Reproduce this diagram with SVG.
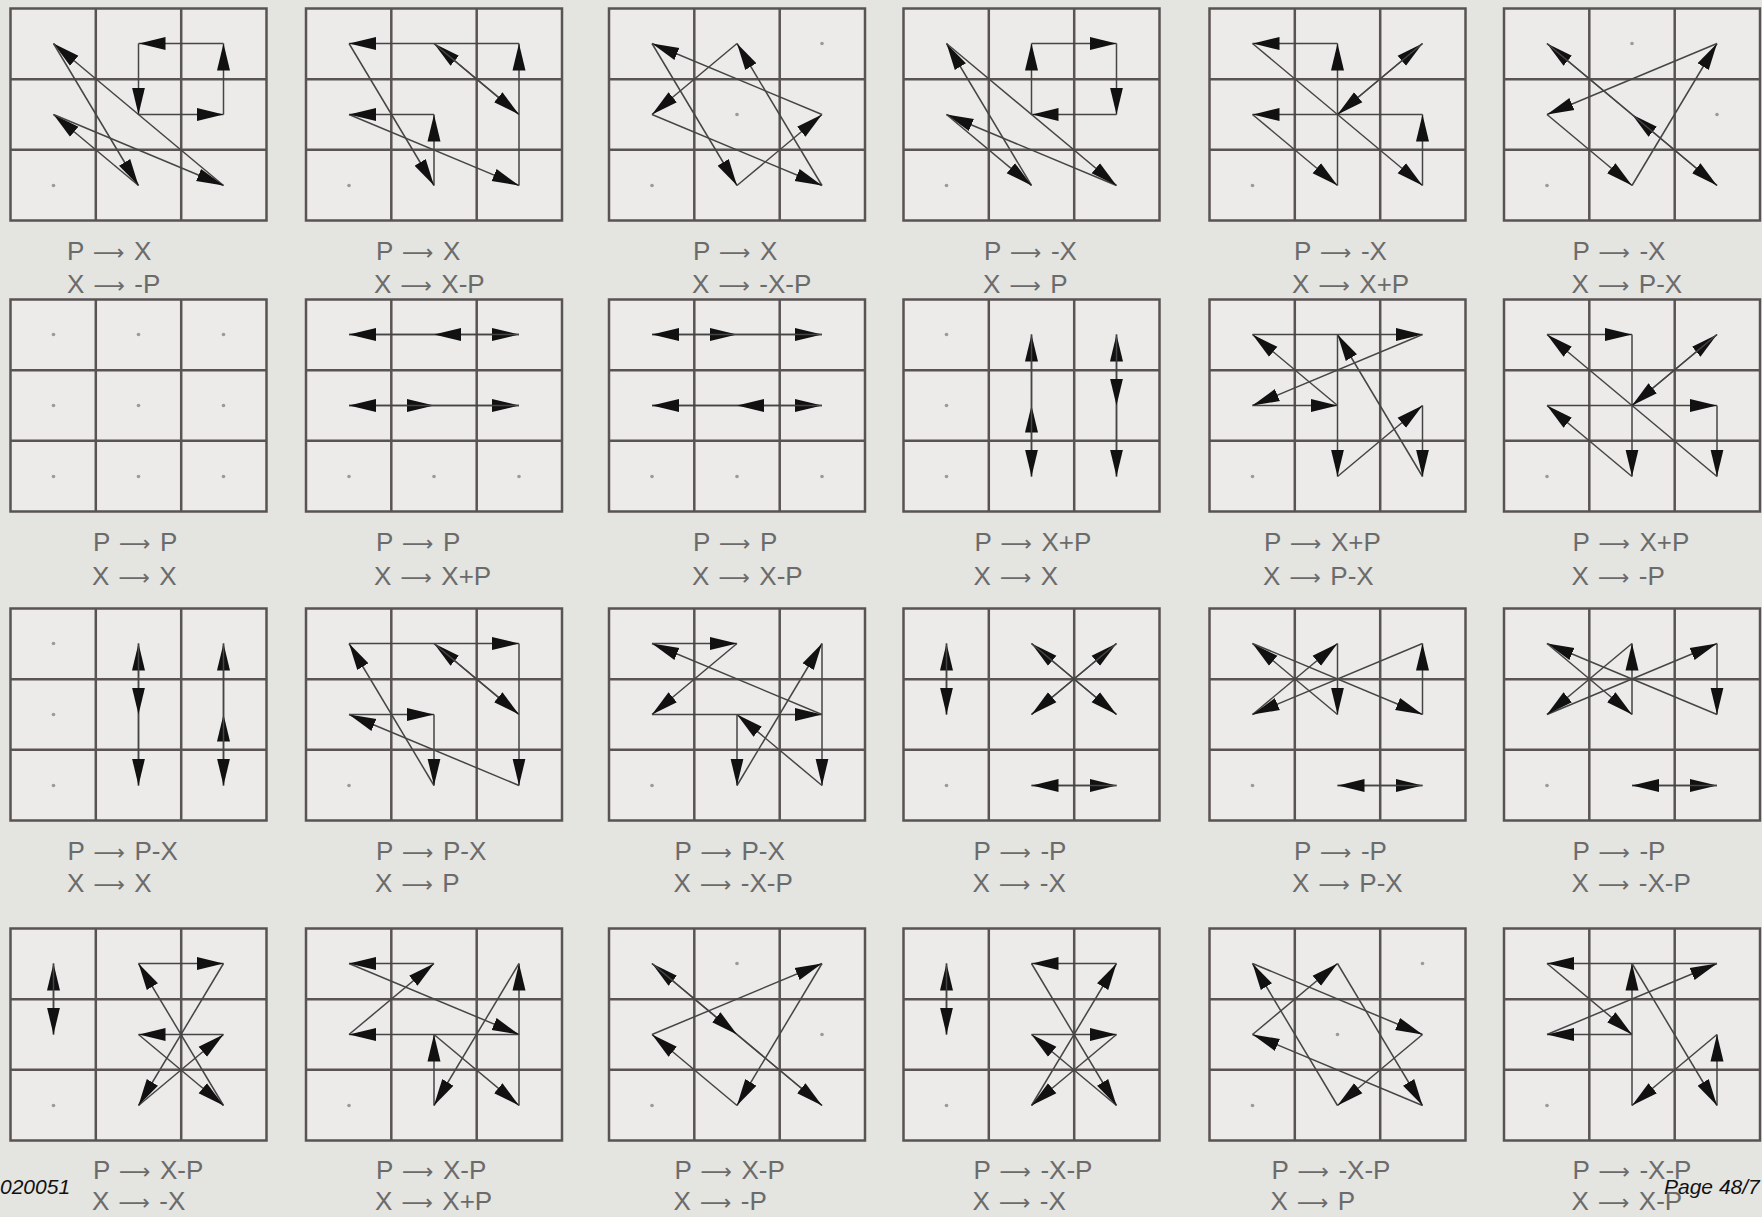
<svg xmlns="http://www.w3.org/2000/svg" xmlns:xlink="http://www.w3.org/1999/xlink" width="1762" height="1217" viewBox="0 0 1762 1217">
<style>
.lbl{font-family:"Liberation Sans",Arial,sans-serif;font-size:26px;fill:#6b6b6b;word-spacing:2px}
.ar{font-family:"DejaVu Sans",sans-serif;font-size:22px}
.ft{font-family:"Liberation Sans",Arial,sans-serif;font-size:21px;font-style:italic;fill:#111}
.d{fill:#9a9a9a}
.a path{fill:none;stroke:#454545;stroke-width:1.5;marker-end:url(#h)}
</style>
<defs>
<marker id="h" markerUnits="userSpaceOnUse" viewBox="0 0 27 14" refX="27" refY="7" markerWidth="27" markerHeight="14" orient="auto">
<path d="M0,0.5 L27,7 L0,13.5 Z" fill="#111"/>
</marker>
<g id="grid">
<rect x="0" y="0" width="256" height="212" fill="#ecebe9" stroke="#595353" stroke-width="2.5"/>
<path d="M85.3,0V212M170.7,0V212M0,70.7H256M0,141.3H256" stroke="#595353" stroke-width="2.5" fill="none"/>
</g>
</defs>
<rect width="1762" height="1217" fill="#e4e4e0"/>

<g id="panel1"><use xlink:href="#grid" x="10.5" y="8.5"/><circle class="d" cx="53.5" cy="185.5" r="1.8"/><text class="lbl" x="67" y="259.5">P <tspan class="ar">⟶</tspan> X</text><text class="lbl" x="67" y="292.5">X <tspan class="ar">⟶</tspan> -P</text></g>
<g id="panel2"><use xlink:href="#grid" x="306" y="8.5"/><circle class="d" cx="349" cy="185.5" r="1.8"/><text class="lbl" x="376" y="259.5">P <tspan class="ar">⟶</tspan> X</text><text class="lbl" x="374" y="292.5">X <tspan class="ar">⟶</tspan> X-P</text></g>
<g id="panel3"><use xlink:href="#grid" x="609" y="8.5"/><circle class="d" cx="652" cy="185.5" r="1.8"/><circle class="d" cx="737" cy="114.5" r="1.8"/><circle class="d" cx="822" cy="43.5" r="1.8"/><text class="lbl" x="693" y="259.5">P <tspan class="ar">⟶</tspan> X</text><text class="lbl" x="692" y="292.5">X <tspan class="ar">⟶</tspan> -X-P</text></g>
<g id="panel4"><use xlink:href="#grid" x="903.5" y="8.5"/><circle class="d" cx="946.5" cy="185.5" r="1.8"/><text class="lbl" x="984" y="259.5">P <tspan class="ar">⟶</tspan> -X</text><text class="lbl" x="983" y="292.5">X <tspan class="ar">⟶</tspan> P</text></g>
<g id="panel5"><use xlink:href="#grid" x="1209.5" y="8.5"/><circle class="d" cx="1252.5" cy="185.5" r="1.8"/><text class="lbl" x="1294" y="259.5">P <tspan class="ar">⟶</tspan> -X</text><text class="lbl" x="1292" y="292.5">X <tspan class="ar">⟶</tspan> X+P</text></g>
<g id="panel6"><use xlink:href="#grid" x="1504" y="8.5"/><circle class="d" cx="1547" cy="185.5" r="1.8"/><circle class="d" cx="1717" cy="114.5" r="1.8"/><circle class="d" cx="1632" cy="43.5" r="1.8"/><text class="lbl" x="1572.5" y="259.5">P <tspan class="ar">⟶</tspan> -X</text><text class="lbl" x="1571.5" y="292.5">X <tspan class="ar">⟶</tspan> P-X</text></g>

<g id="panel7"><use xlink:href="#grid" x="10.5" y="299.5"/><g class="d"><circle cx="53.5" cy="476.5" r="1.8"/><circle cx="138.5" cy="476.5" r="1.8"/><circle cx="223.5" cy="476.5" r="1.8"/><circle cx="53.5" cy="405.5" r="1.8"/><circle cx="138.5" cy="405.5" r="1.8"/><circle cx="223.5" cy="405.5" r="1.8"/><circle cx="53.5" cy="334.5" r="1.8"/><circle cx="138.5" cy="334.5" r="1.8"/><circle cx="223.5" cy="334.5" r="1.8"/></g><text class="lbl" x="93" y="550.5">P <tspan class="ar">⟶</tspan> P</text><text class="lbl" x="92" y="584.5">X <tspan class="ar">⟶</tspan> X</text></g>
<g id="panel8"><use xlink:href="#grid" x="306" y="299.5"/><g class="d"><circle cx="349" cy="476.5" r="1.8"/><circle cx="434" cy="476.5" r="1.8"/><circle cx="519" cy="476.5" r="1.8"/></g><text class="lbl" x="376" y="550.5">P <tspan class="ar">⟶</tspan> P</text><text class="lbl" x="374" y="584.5">X <tspan class="ar">⟶</tspan> X+P</text></g>
<g id="panel9"><use xlink:href="#grid" x="609" y="299.5"/><g class="d"><circle cx="652" cy="476.5" r="1.8"/><circle cx="737" cy="476.5" r="1.8"/><circle cx="822" cy="476.5" r="1.8"/></g><text class="lbl" x="693" y="550.5">P <tspan class="ar">⟶</tspan> P</text><text class="lbl" x="692" y="584.5">X <tspan class="ar">⟶</tspan> X-P</text></g>
<g id="panel10"><use xlink:href="#grid" x="903.5" y="299.5"/><g class="d"><circle cx="946.5" cy="476.5" r="1.8"/><circle cx="946.5" cy="405.5" r="1.8"/><circle cx="946.5" cy="334.5" r="1.8"/></g><text class="lbl" x="974.5" y="550.5">P <tspan class="ar">⟶</tspan> X+P</text><text class="lbl" x="973.5" y="584.5">X <tspan class="ar">⟶</tspan> X</text></g>
<g id="panel11"><use xlink:href="#grid" x="1209.5" y="299.5"/><circle class="d" cx="1252.5" cy="476.5" r="1.8"/><text class="lbl" x="1264" y="550.5">P <tspan class="ar">⟶</tspan> X+P</text><text class="lbl" x="1263" y="584.5">X <tspan class="ar">⟶</tspan> P-X</text></g>
<g id="panel12"><use xlink:href="#grid" x="1504" y="299.5"/><circle class="d" cx="1547" cy="476.5" r="1.8"/><text class="lbl" x="1572.5" y="550.5">P <tspan class="ar">⟶</tspan> X+P</text><text class="lbl" x="1571.5" y="584.5">X <tspan class="ar">⟶</tspan> -P</text></g>

<g id="panel13"><use xlink:href="#grid" x="10.5" y="608.5"/><g class="d"><circle cx="53.5" cy="785.5" r="1.8"/><circle cx="53.5" cy="714.5" r="1.8"/><circle cx="53.5" cy="643.5" r="1.8"/></g><text class="lbl" x="67.5" y="859.5">P <tspan class="ar">⟶</tspan> P-X</text><text class="lbl" x="67" y="891.5">X <tspan class="ar">⟶</tspan> X</text></g>
<g id="panel14"><use xlink:href="#grid" x="306" y="608.5"/><circle class="d" cx="349" cy="785.5" r="1.8"/><text class="lbl" x="376" y="859.5">P <tspan class="ar">⟶</tspan> P-X</text><text class="lbl" x="375" y="891.5">X <tspan class="ar">⟶</tspan> P</text></g>
<g id="panel15"><use xlink:href="#grid" x="609" y="608.5"/><circle class="d" cx="652" cy="785.5" r="1.8"/><text class="lbl" x="674.5" y="859.5">P <tspan class="ar">⟶</tspan> P-X</text><text class="lbl" x="673.5" y="891.5">X <tspan class="ar">⟶</tspan> -X-P</text></g>
<g id="panel16"><use xlink:href="#grid" x="903.5" y="608.5"/><circle class="d" cx="946.5" cy="785.5" r="1.8"/><text class="lbl" x="973.5" y="859.5">P <tspan class="ar">⟶</tspan> -P</text><text class="lbl" x="972.5" y="891.5">X <tspan class="ar">⟶</tspan> -X</text></g>
<g id="panel17"><use xlink:href="#grid" x="1209.5" y="608.5"/><circle class="d" cx="1252.5" cy="785.5" r="1.8"/><text class="lbl" x="1294" y="859.5">P <tspan class="ar">⟶</tspan> -P</text><text class="lbl" x="1292" y="891.5">X <tspan class="ar">⟶</tspan> P-X</text></g>
<g id="panel18"><use xlink:href="#grid" x="1504" y="608.5"/><circle class="d" cx="1547" cy="785.5" r="1.8"/><text class="lbl" x="1572.5" y="859.5">P <tspan class="ar">⟶</tspan> -P</text><text class="lbl" x="1571.5" y="891.5">X <tspan class="ar">⟶</tspan> -X-P</text></g>

<g id="panel19"><use xlink:href="#grid" x="10.5" y="928.5"/><circle class="d" cx="53.5" cy="1105.5" r="1.8"/><text class="lbl" x="93" y="1179">P <tspan class="ar">⟶</tspan> X-P</text><text class="lbl" x="92" y="1210">X <tspan class="ar">⟶</tspan> -X</text></g>
<g id="panel20"><use xlink:href="#grid" x="306" y="928.5"/><circle class="d" cx="349" cy="1105.5" r="1.8"/><text class="lbl" x="376" y="1179">P <tspan class="ar">⟶</tspan> X-P</text><text class="lbl" x="375" y="1210">X <tspan class="ar">⟶</tspan> X+P</text></g>
<g id="panel21"><use xlink:href="#grid" x="609" y="928.5"/><circle class="d" cx="652" cy="1105.5" r="1.8"/><circle class="d" cx="822" cy="1034.5" r="1.8"/><circle class="d" cx="737" cy="963.5" r="1.8"/><text class="lbl" x="674.5" y="1179">P <tspan class="ar">⟶</tspan> X-P</text><text class="lbl" x="673.5" y="1210">X <tspan class="ar">⟶</tspan> -P</text></g>
<g id="panel22"><use xlink:href="#grid" x="903.5" y="928.5"/><circle class="d" cx="946.5" cy="1105.5" r="1.8"/><text class="lbl" x="973.5" y="1179">P <tspan class="ar">⟶</tspan> -X-P</text><text class="lbl" x="972.5" y="1210">X <tspan class="ar">⟶</tspan> -X</text></g>
<g id="panel23"><use xlink:href="#grid" x="1209.5" y="928.5"/><circle class="d" cx="1252.5" cy="1105.5" r="1.8"/><circle class="d" cx="1337.5" cy="1034.5" r="1.8"/><circle class="d" cx="1422.5" cy="963.5" r="1.8"/><text class="lbl" x="1271.5" y="1179">P <tspan class="ar">⟶</tspan> -X-P</text><text class="lbl" x="1270.5" y="1210">X <tspan class="ar">⟶</tspan> P</text></g>
<g id="panel24"><use xlink:href="#grid" x="1504" y="928.5"/><circle class="d" cx="1547" cy="1105.5" r="1.8"/><text class="lbl" x="1572.5" y="1179">P <tspan class="ar">⟶</tspan> -X-P</text><text class="lbl" x="1571.5" y="1210">X <tspan class="ar">⟶</tspan> X-P</text></g>

<g id="connectors" class="a">
<g transform="translate(10.5,8.5)"><path d="M128 177L43 106"/><path d="M213 177L43 35"/><path d="M43 106L213 177"/><path d="M128 106L213 106"/><path d="M213 106L213 35"/><path d="M43 35L128 177"/><path d="M128 35L128 106"/><path d="M213 35L128 35"/></g>
<g transform="translate(306,8.5)"><path d="M128 177L128 106"/><path d="M213 177L213 35"/><path d="M43 106L213 177"/><path d="M128 106L43 106"/><path d="M213 106L128 35"/><path d="M43 35L128 177"/><path d="M128 35L213 106"/><path d="M213 35L43 35"/></g>
<g transform="translate(609,8.5)"><path d="M128 177L213 106"/><path d="M213 177L128 35"/><path d="M43 106L213 177"/><path d="M213 106L43 35"/><path d="M43 35L128 177"/><path d="M128 35L43 106"/></g>
<g transform="translate(903.5,8.5)"><path d="M128 177L43 35"/><path d="M213 177L43 106"/><path d="M43 106L128 177"/><path d="M128 106L128 35"/><path d="M213 106L128 106"/><path d="M43 35L213 177"/><path d="M128 35L213 35"/><path d="M213 35L213 106"/></g>
<g transform="translate(1209.5,8.5)"><path d="M128 177L128 35"/><path d="M213 177L213 106"/><path d="M43 106L128 177"/><path d="M128 106L213 35"/><path d="M213 106L43 106"/><path d="M43 35L213 177"/><path d="M128 35L43 35"/><path d="M213 35L128 106"/></g>
<g transform="translate(1504,8.5)"><path d="M128 177L213 35"/><path d="M213 177L128 106"/><path d="M43 106L128 177"/><path d="M128 106L43 35"/><path d="M43 35L213 177"/><path d="M213 35L43 106"/></g>

<g transform="translate(306,299.5)"><path d="M43 106L128 106"/><path d="M128 106L213 106"/><path d="M213 106L43 106"/><path d="M43 35L213 35"/><path d="M128 35L43 35"/><path d="M213 35L128 35"/></g>
<g transform="translate(609,299.5)"><path d="M43 106L213 106"/><path d="M128 106L43 106"/><path d="M213 106L128 106"/><path d="M43 35L128 35"/><path d="M128 35L213 35"/><path d="M213 35L43 35"/></g>
<g transform="translate(903.5,299.5)"><path d="M128 177L128 106"/><path d="M128 106L128 35"/><path d="M128 35L128 177"/><path d="M213 177L213 35"/><path d="M213 106L213 177"/><path d="M213 35L213 106"/></g>
<g transform="translate(1209.5,299.5)"><path d="M128 177L213 106"/><path d="M213 177L128 35"/><path d="M43 106L128 106"/><path d="M128 106L43 35"/><path d="M213 106L213 177"/><path d="M43 35L213 35"/><path d="M128 35L128 177"/><path d="M213 35L43 106"/></g>
<g transform="translate(1504,299.5)"><path d="M128 177L43 106"/><path d="M213 177L43 35"/><path d="M43 106L213 106"/><path d="M128 106L213 35"/><path d="M213 106L213 177"/><path d="M43 35L128 35"/><path d="M128 35L128 177"/><path d="M213 35L128 106"/></g>

<g transform="translate(10.5,608.5)"><path d="M128 177L128 35"/><path d="M128 106L128 177"/><path d="M128 35L128 106"/><path d="M213 177L213 106"/><path d="M213 106L213 35"/><path d="M213 35L213 177"/></g>
<g transform="translate(306,608.5)"><path d="M128 177L43 35"/><path d="M213 177L43 106"/><path d="M43 106L128 106"/><path d="M128 106L128 177"/><path d="M213 106L128 35"/><path d="M43 35L213 35"/><path d="M128 35L213 106"/><path d="M213 35L213 177"/></g>
<g transform="translate(609,608.5)"><path d="M128 177L213 35"/><path d="M213 177L128 106"/><path d="M43 106L213 106"/><path d="M128 106L128 177"/><path d="M213 106L43 35"/><path d="M43 35L128 35"/><path d="M128 35L43 106"/><path d="M213 35L213 177"/></g>
<g transform="translate(903.5,608.5)"><path d="M128 177L213 177"/><path d="M213 177L128 177"/><path d="M43 106L43 35"/><path d="M43 35L43 106"/><path d="M128 106L213 35"/><path d="M213 35L128 106"/><path d="M213 106L128 35"/><path d="M128 35L213 106"/></g>
<g transform="translate(1209.5,608.5)"><path d="M128 177L213 177"/><path d="M213 177L128 177"/><path d="M43 106L128 35"/><path d="M128 106L43 35"/><path d="M213 106L213 35"/><path d="M43 35L213 106"/><path d="M128 35L128 106"/><path d="M213 35L43 106"/></g>
<g transform="translate(1504,608.5)"><path d="M128 177L213 177"/><path d="M213 177L128 177"/><path d="M43 106L213 35"/><path d="M128 106L128 35"/><path d="M213 106L43 35"/><path d="M43 35L128 106"/><path d="M128 35L43 106"/><path d="M213 35L213 106"/></g>

<g transform="translate(10.5,928.5)"><path d="M128 177L213 106"/><path d="M213 177L128 35"/><path d="M43 106L43 35"/><path d="M128 106L213 177"/><path d="M213 106L128 106"/><path d="M43 35L43 106"/><path d="M128 35L213 35"/><path d="M213 35L128 177"/></g>
<g transform="translate(306,928.5)"><path d="M128 177L128 106"/><path d="M213 177L213 35"/><path d="M43 106L128 35"/><path d="M128 106L213 177"/><path d="M213 106L43 106"/><path d="M43 35L213 106"/><path d="M128 35L43 35"/><path d="M213 35L128 177"/></g>
<g transform="translate(609,928.5)"><path d="M128 177L43 106"/><path d="M213 177L43 35"/><path d="M43 106L213 35"/><path d="M128 106L213 177"/><path d="M43 35L128 106"/><path d="M213 35L128 177"/></g>
<g transform="translate(903.5,928.5)"><path d="M128 177L213 35"/><path d="M213 177L128 106"/><path d="M43 106L43 35"/><path d="M128 106L213 106"/><path d="M213 106L128 177"/><path d="M43 35L43 106"/><path d="M128 35L213 177"/><path d="M213 35L128 35"/></g>
<g transform="translate(1209.5,928.5)"><path d="M128 177L43 35"/><path d="M213 177L43 106"/><path d="M43 106L128 35"/><path d="M213 106L128 177"/><path d="M43 35L213 106"/><path d="M128 35L213 177"/></g>
<g transform="translate(1504,928.5)"><path d="M128 177L128 35"/><path d="M213 177L213 106"/><path d="M43 106L213 35"/><path d="M128 106L43 106"/><path d="M213 106L128 177"/><path d="M43 35L128 106"/><path d="M128 35L213 177"/><path d="M213 35L43 35"/></g>
</g>

<text class="ft" x="0" y="1194" font-size="20">020051</text>
<text class="ft" x="1664" y="1194">Page 48/7</text>
</svg>
